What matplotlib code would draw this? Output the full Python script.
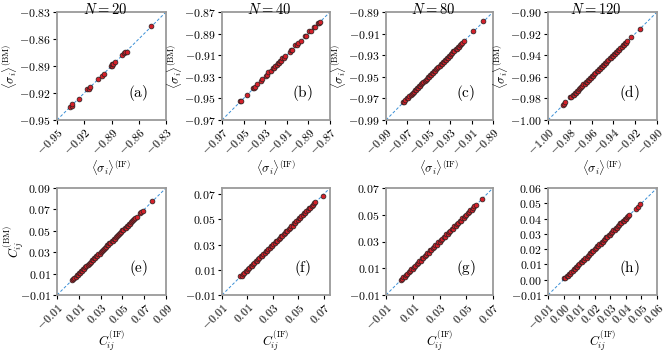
import matplotlib
matplotlib.use("Agg")
import matplotlib.pyplot as plt
from matplotlib.ticker import FixedLocator, FuncFormatter

plt.rcParams['mathtext.fontset'] = 'cm'
plt.rcParams['font.family'] = ['DejaVu Serif']

# ---------------- data ----------------
titles = ["$N = 20$", "$N = 40$", "$N = 80$", "$N = 120$"]
panel_labels = ["(a)", "(b)", "(c)", "(d)", "(e)", "(f)", "(g)", "(h)"]

x_a = [-0.936, -0.934, -0.933, -0.926, -0.917, -0.915, -0.914, -0.905, -0.901, -0.898,
       -0.891, -0.890, -0.889, -0.888, -0.886, -0.878, -0.876, -0.875, -0.873, -0.846]
y_a = [-0.935, -0.934, -0.932, -0.927, -0.916, -0.915, -0.913, -0.904, -0.901, -0.899,
       -0.890, -0.890, -0.888, -0.888, -0.885, -0.878, -0.876, -0.874, -0.874, -0.846]

x_b = [-0.953, -0.952, -0.947, -0.941, -0.940, -0.939, -0.938, -0.934, -0.933, -0.929,
       -0.928, -0.927, -0.925, -0.923, -0.922, -0.921, -0.919, -0.918, -0.917, -0.916,
       -0.915, -0.914, -0.913, -0.912, -0.907, -0.906, -0.905, -0.902, -0.901, -0.900,
       -0.897, -0.893, -0.892, -0.889, -0.888, -0.885, -0.884, -0.881, -0.880, -0.879]
y_b = [-0.952, -0.952, -0.947, -0.940, -0.940, -0.939, -0.937, -0.934, -0.932, -0.929,
       -0.928, -0.926, -0.925, -0.922, -0.922, -0.920, -0.919, -0.917, -0.917, -0.915,
       -0.915, -0.913, -0.913, -0.911, -0.907, -0.905, -0.905, -0.901, -0.901, -0.899,
       -0.897, -0.892, -0.892, -0.888, -0.888, -0.884, -0.884, -0.880, -0.880, -0.879]

x_c = [-0.9740, -0.9730, -0.9720, -0.9705, -0.9695, -0.9685, -0.9670, -0.9660, -0.9650, -0.9640,
       -0.9630, -0.9620, -0.9610, -0.9600, -0.9590, -0.9580, -0.9570, -0.9560, -0.9550, -0.9540,
       -0.9530, -0.9520, -0.9510, -0.9500, -0.9490, -0.9480, -0.9470, -0.9460, -0.9450, -0.9440,
       -0.9430, -0.9420, -0.9410, -0.9400, -0.9390, -0.9380, -0.9370, -0.9360, -0.9350, -0.9340,
       -0.9330, -0.9320, -0.9310, -0.9300, -0.9290, -0.9280, -0.9270, -0.9260, -0.9250, -0.9240,
       -0.9230, -0.9220, -0.9210, -0.9200, -0.9190, -0.9170, -0.9085, -0.8990]
y_c = [-0.9735, -0.9732, -0.9716, -0.9700, -0.9698, -0.9681, -0.9665, -0.9663, -0.9646, -0.9642,
       -0.9625, -0.9623, -0.9606, -0.9602, -0.9585, -0.9583, -0.9566, -0.9562, -0.9545, -0.9543,
       -0.9526, -0.9522, -0.9505, -0.9503, -0.9486, -0.9482, -0.9465, -0.9463, -0.9446, -0.9442,
       -0.9425, -0.9423, -0.9406, -0.9402, -0.9385, -0.9383, -0.9366, -0.9362, -0.9345, -0.9343,
       -0.9326, -0.9322, -0.9305, -0.9303, -0.9286, -0.9282, -0.9265, -0.9263, -0.9246, -0.9242,
       -0.9225, -0.9223, -0.9206, -0.9198, -0.9187, -0.9165, -0.9080, -0.8985]

x_d = [-0.9865, -0.9855, -0.9840, -0.9795, -0.9785, -0.9775, -0.9765, -0.9755, -0.9745, -0.9735,
       -0.9725, -0.9715, -0.9705, -0.9695, -0.9685, -0.9675, -0.9665, -0.9655, -0.9645, -0.9635,
       -0.9625, -0.9615, -0.9605, -0.9595, -0.9585, -0.9575, -0.9565, -0.9555, -0.9545, -0.9535,
       -0.9525, -0.9515, -0.9505, -0.9495, -0.9485, -0.9475, -0.9465, -0.9455, -0.9445, -0.9435,
       -0.9425, -0.9415, -0.9405, -0.9395, -0.9385, -0.9375, -0.9365, -0.9355, -0.9345, -0.9335,
       -0.9325, -0.9315, -0.9305, -0.9295, -0.9285, -0.9275, -0.9240, -0.9160]
y_d = [-0.9860, -0.9850, -0.9835, -0.9790, -0.9788, -0.9770, -0.9768, -0.9750, -0.9748, -0.9730,
       -0.9728, -0.9710, -0.9708, -0.9690, -0.9688, -0.9670, -0.9668, -0.9650, -0.9648, -0.9630,
       -0.9628, -0.9610, -0.9608, -0.9590, -0.9588, -0.9570, -0.9568, -0.9550, -0.9548, -0.9530,
       -0.9528, -0.9510, -0.9508, -0.9490, -0.9488, -0.9470, -0.9468, -0.9450, -0.9448, -0.9430,
       -0.9428, -0.9410, -0.9408, -0.9390, -0.9388, -0.9370, -0.9368, -0.9350, -0.9348, -0.9330,
       -0.9328, -0.9310, -0.9308, -0.9290, -0.9288, -0.9270, -0.9235, -0.9155]

x_e = [0.0040, 0.0050, 0.0060, 0.0070, 0.0080, 0.0090, 0.0100, 0.0110, 0.0120, 0.0130,
       0.0140, 0.0150, 0.0160, 0.0170, 0.0180, 0.0190, 0.0200, 0.0210, 0.0220, 0.0230,
       0.0240, 0.0250, 0.0260, 0.0270, 0.0280, 0.0290, 0.0300, 0.0310, 0.0320, 0.0330,
       0.0340, 0.0350, 0.0360, 0.0370, 0.0380, 0.0390, 0.0400, 0.0410, 0.0420, 0.0430,
       0.0440, 0.0450, 0.0460, 0.0470, 0.0480, 0.0490, 0.0500, 0.0510, 0.0520, 0.0530,
       0.0540, 0.0550, 0.0560, 0.0570, 0.0580, 0.0590, 0.0600, 0.0610, 0.0620, 0.0630,
       0.0660, 0.0675, 0.0685, 0.0775]
y_e = [0.0043, 0.0047, 0.0063, 0.0067, 0.0083, 0.0087, 0.0103, 0.0107, 0.0123, 0.0127,
       0.0143, 0.0147, 0.0163, 0.0167, 0.0183, 0.0187, 0.0203, 0.0207, 0.0223, 0.0227,
       0.0243, 0.0247, 0.0263, 0.0267, 0.0283, 0.0287, 0.0303, 0.0307, 0.0323, 0.0327,
       0.0343, 0.0347, 0.0363, 0.0367, 0.0383, 0.0387, 0.0403, 0.0407, 0.0423, 0.0427,
       0.0443, 0.0447, 0.0463, 0.0467, 0.0483, 0.0487, 0.0503, 0.0507, 0.0523, 0.0527,
       0.0543, 0.0547, 0.0563, 0.0567, 0.0583, 0.0587, 0.0603, 0.0607, 0.0622, 0.0632,
       0.0662, 0.0678, 0.0684, 0.0778]

x_f = [0.0045, 0.0055, 0.0065, 0.0075, 0.0085, 0.0095, 0.0105, 0.0115, 0.0125, 0.0135,
       0.0145, 0.0155, 0.0165, 0.0175, 0.0185, 0.0195, 0.0205, 0.0215, 0.0225, 0.0235,
       0.0245, 0.0255, 0.0265, 0.0275, 0.0285, 0.0295, 0.0305, 0.0315, 0.0325, 0.0335,
       0.0345, 0.0355, 0.0365, 0.0375, 0.0385, 0.0395, 0.0405, 0.0415, 0.0425, 0.0435,
       0.0445, 0.0455, 0.0465, 0.0475, 0.0485, 0.0495, 0.0505, 0.0515, 0.0525, 0.0535,
       0.0545, 0.0555, 0.0565, 0.0575, 0.0585, 0.0595, 0.0605, 0.0615, 0.0625, 0.0635,
       0.0695]
y_f = [0.0048, 0.0052, 0.0068, 0.0072, 0.0088, 0.0092, 0.0108, 0.0112, 0.0128, 0.0132,
       0.0148, 0.0152, 0.0168, 0.0172, 0.0188, 0.0192, 0.0208, 0.0212, 0.0228, 0.0232,
       0.0248, 0.0252, 0.0268, 0.0272, 0.0288, 0.0292, 0.0308, 0.0312, 0.0328, 0.0332,
       0.0348, 0.0352, 0.0368, 0.0372, 0.0388, 0.0392, 0.0408, 0.0412, 0.0428, 0.0432,
       0.0448, 0.0452, 0.0468, 0.0472, 0.0488, 0.0492, 0.0508, 0.0512, 0.0528, 0.0532,
       0.0548, 0.0552, 0.0568, 0.0572, 0.0588, 0.0592, 0.0608, 0.0612, 0.0628, 0.0638,
       0.0690]

x_g = [0.0010, 0.0020, 0.0030, 0.0040, 0.0050, 0.0060, 0.0070, 0.0080, 0.0090, 0.0100,
       0.0110, 0.0120, 0.0130, 0.0140, 0.0150, 0.0160, 0.0170, 0.0180, 0.0190, 0.0200,
       0.0210, 0.0220, 0.0230, 0.0240, 0.0250, 0.0260, 0.0270, 0.0280, 0.0290, 0.0300,
       0.0310, 0.0320, 0.0330, 0.0340, 0.0350, 0.0360, 0.0370, 0.0380, 0.0390, 0.0400,
       0.0410, 0.0420, 0.0430, 0.0440, 0.0450, 0.0460, 0.0470, 0.0480, 0.0490, 0.0500,
       0.0510, 0.0520, 0.0530, 0.0540, 0.0550, 0.0560, 0.0570, 0.0620]
y_g = [0.0013, 0.0017, 0.0033, 0.0037, 0.0053, 0.0057, 0.0073, 0.0077, 0.0093, 0.0097,
       0.0113, 0.0117, 0.0133, 0.0137, 0.0153, 0.0157, 0.0173, 0.0177, 0.0193, 0.0197,
       0.0213, 0.0217, 0.0233, 0.0237, 0.0253, 0.0257, 0.0273, 0.0277, 0.0293, 0.0297,
       0.0313, 0.0317, 0.0333, 0.0337, 0.0353, 0.0357, 0.0373, 0.0377, 0.0393, 0.0397,
       0.0413, 0.0417, 0.0433, 0.0437, 0.0453, 0.0457, 0.0473, 0.0477, 0.0493, 0.0497,
       0.0513, 0.0517, 0.0533, 0.0537, 0.0553, 0.0562, 0.0572, 0.0618]

x_h = [0.0005, 0.0012, 0.0020, 0.0028, 0.0035, 0.0042, 0.0050, 0.0058, 0.0065, 0.0072,
       0.0080, 0.0088, 0.0095, 0.0102, 0.0110, 0.0118, 0.0125, 0.0132, 0.0140, 0.0148,
       0.0155, 0.0162, 0.0170, 0.0178, 0.0185, 0.0192, 0.0200, 0.0208, 0.0215, 0.0222,
       0.0230, 0.0238, 0.0245, 0.0252, 0.0260, 0.0268, 0.0275, 0.0282, 0.0290, 0.0298,
       0.0305, 0.0312, 0.0320, 0.0328, 0.0335, 0.0342, 0.0350, 0.0358, 0.0365, 0.0372,
       0.0380, 0.0388, 0.0395, 0.0402, 0.0410, 0.0415, 0.0420, 0.0465, 0.0475, 0.0490]
y_h = [0.0008, 0.0010, 0.0023, 0.0025, 0.0038, 0.0040, 0.0053, 0.0055, 0.0068, 0.0070,
       0.0083, 0.0085, 0.0098, 0.0100, 0.0113, 0.0115, 0.0128, 0.0130, 0.0143, 0.0145,
       0.0158, 0.0160, 0.0173, 0.0175, 0.0188, 0.0190, 0.0203, 0.0205, 0.0218, 0.0220,
       0.0233, 0.0235, 0.0248, 0.0250, 0.0263, 0.0265, 0.0278, 0.0280, 0.0293, 0.0295,
       0.0308, 0.0310, 0.0323, 0.0325, 0.0338, 0.0340, 0.0353, 0.0355, 0.0368, 0.0370,
       0.0383, 0.0385, 0.0398, 0.0400, 0.0412, 0.0414, 0.0421, 0.0463, 0.0476, 0.0493]

xs = [x_a, x_b, x_c, x_d, x_e, x_f, x_g, x_h]
ys = [y_a, y_b, y_c, y_d, y_e, y_f, y_g, y_h]

limits = [(-0.95, -0.83), (-0.97, -0.87), (-0.99, -0.89), (-1.00, -0.90),
          (-0.01, 0.09), (-0.01, 0.075), (-0.01, 0.07), (-0.01, 0.06)]
ticks = [[-0.95, -0.92, -0.89, -0.86, -0.83],
         [-0.97, -0.95, -0.93, -0.91, -0.89, -0.87],
         [-0.99, -0.97, -0.95, -0.93, -0.91, -0.89],
         [-1.00, -0.98, -0.96, -0.94, -0.92, -0.90],
         [-0.01, 0.01, 0.03, 0.05, 0.07, 0.09],
         [-0.01, 0.01, 0.03, 0.05, 0.07],
         [-0.01, 0.01, 0.03, 0.05, 0.07],
         [-0.01, 0.00, 0.01, 0.02, 0.03, 0.04, 0.05, 0.06]]

xlabel_top = r"$\langle\sigma_i\rangle^{(\mathrm{IF})}$"
ylabel_top = r"$\langle\sigma_i\rangle^{(\mathrm{BM})}$"
xlabel_bot = r"$C_{ij}^{(\mathrm{IF})}$"
ylabel_bot = r"$C_{ij}^{(\mathrm{BM})}$"

# ---------------- layout ----------------
W, H = 669, 352
fig = plt.figure(figsize=(W / 100, H / 100), dpi=100)

lefts = [57, 222, 386, 548]
widths = [109, 108, 107, 109]
tops = [12, 188]
heights = [108, 107]

fmt = FuncFormatter(lambda v, p: "$%.2f$" % v if abs(v) > 1e-9 else "$0.00$")

for k in range(8):
    r, c = divmod(k, 4)
    ax = fig.add_axes([lefts[c] / W, (H - tops[r] - heights[r]) / H,
                       widths[c] / W, heights[r] / H])
    ax.axline((0, 0), slope=1, ls=(0, (3, 2)), lw=0.7, color="#3a8fd6", zorder=1)
    ax.scatter(xs[k], ys[k], s=12, facecolor="#d4202a", edgecolor="#222222",
               linewidth=0.5, zorder=2)
    lo, hi = limits[k]
    ax.set_xlim(lo, hi)
    ax.set_ylim(lo, hi)
    ax.xaxis.set_major_locator(FixedLocator(ticks[k]))
    ax.yaxis.set_major_locator(FixedLocator(ticks[k]))
    ax.xaxis.set_major_formatter(fmt)
    ax.yaxis.set_major_formatter(fmt)
    ax.tick_params(axis="both", labelsize=8.5, length=3, width=0.8, pad=1.5)
    for lab in ax.get_xticklabels():
        lab.set_rotation(45)
        lab.set_ha("right")
        lab.set_rotation_mode("anchor")
    for s in ax.spines.values():
        s.set_color("#9a9a9a")
        s.set_linewidth(1.3)
    ax.text(0.745, 0.25, r"$\mathrm{%s}$" % panel_labels[k], transform=ax.transAxes,
            ha="center", va="center", fontsize=11)
    if r == 0:
        ax.text(0.44, 1 + 9.5 / heights[r], titles[c], transform=ax.transAxes,
                ha="center", va="top", fontsize=10.5, zorder=5)
        ax.set_xlabel(xlabel_top, fontsize=9, labelpad=0)
        ax.set_ylabel(ylabel_top, fontsize=9, labelpad=0)
    else:
        ax.set_xlabel(xlabel_bot, fontsize=9, labelpad=-2.5)
        if c == 0:
            ax.set_ylabel(ylabel_bot, fontsize=9, labelpad=-4.5)

fig.savefig("out.png", dpi=100)
